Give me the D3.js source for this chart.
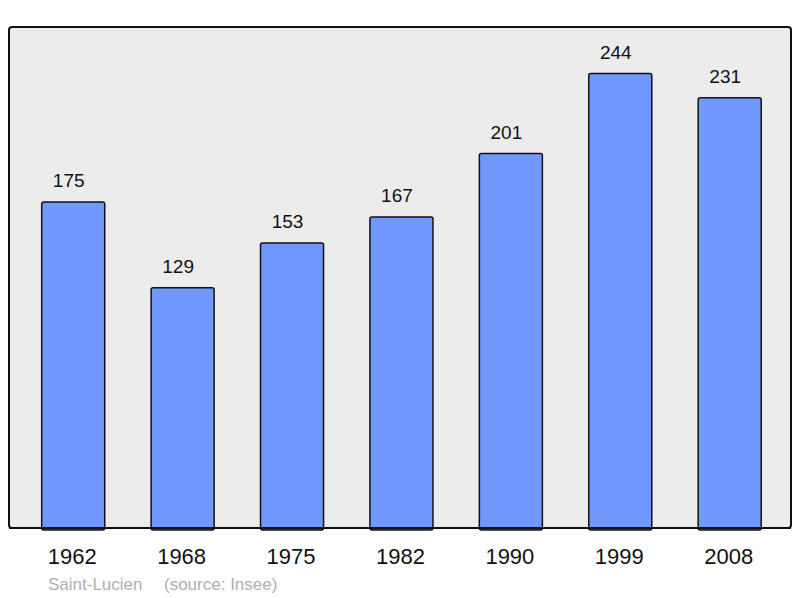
<!DOCTYPE html>
<html><head><meta charset="utf-8">
<script src="https://cdn.jsdelivr.net/npm/d3@7"></script>
<style>body{margin:0;background:#fff}svg{display:block}</style>
</head><body><svg id="c" width="800" height="598"></svg>
<script>
const years = ["1962","1968","1975","1982","1990","1999","2008"];
const population = [175,129,153,167,201,244,231];
const captionName = "Saint-Lucien";
const captionSource = "(source: Insee)";

const svg = d3.select("#c");
const font = "'Liberation Sans', Arial, sans-serif";
const frame = {x0: 9, y0: 27, x1: 791, y1: 528};

svg.append("rect").attr("x", frame.x0).attr("y", frame.y0)
  .attr("width", frame.x1 - frame.x0).attr("height", frame.y1 - frame.y0)
  .attr("rx", 3).attr("fill", "#ececec").attr("stroke", "#111").attr("stroke-width", 2);

const x = d3.scaleBand().domain(years).range([18.5, 784.4]).paddingInner(0.424).paddingOuter(0.212);
const y = d3.scaleLinear().domain([0, 244]).range([frame.y1, 73.5]);

const data = years.map((yr, i) => ({yr, v: population[i]}));

svg.selectAll("rect.bar").data(data).enter().append("rect").attr("class", "bar")
  .attr("x", d => x(d.yr)).attr("y", d => y(d.v))
  .attr("width", x.bandwidth()).attr("height", d => frame.y1 - y(d.v) + 2)
  .attr("rx", 2).attr("fill", "#7098ff").attr("stroke", "#111").attr("stroke-width", 1.5);

svg.append("line").attr("x1", frame.x0).attr("x2", frame.x1).attr("y1", frame.y1).attr("y2", frame.y1)
  .attr("stroke", "#111").attr("stroke-width", 2);

svg.selectAll("text.val").data(data).enter().append("text").attr("class", "val")
  .attr("x", d => x(d.yr) + x.bandwidth() / 2 - 4.5).attr("y", d => y(d.v) - 15)
  .attr("text-anchor", "middle").attr("font-family", font).attr("font-size", 19).attr("fill", "#111")
  .text(d => d.v);

const axis = d3.axisBottom(x).tickSize(0).tickPadding(0);
const g = svg.append("g").attr("transform", `translate(0,${frame.y1})`).call(axis);
g.select(".domain").remove();
g.selectAll("text").attr("font-family", font).attr("font-size", 22).attr("fill", "#111")
  .attr("dy", null).attr("y", 36).attr("dx", -1);

svg.append("text").attr("x", 48).attr("y", 590).attr("font-family", font).attr("font-size", 17)
  .attr("fill", "#b0b0b0").text(captionName);
svg.append("text").attr("x", 164).attr("y", 590).attr("font-family", font).attr("font-size", 17)
  .attr("fill", "#b0b0b0").text(captionSource);
</script></body></html>
